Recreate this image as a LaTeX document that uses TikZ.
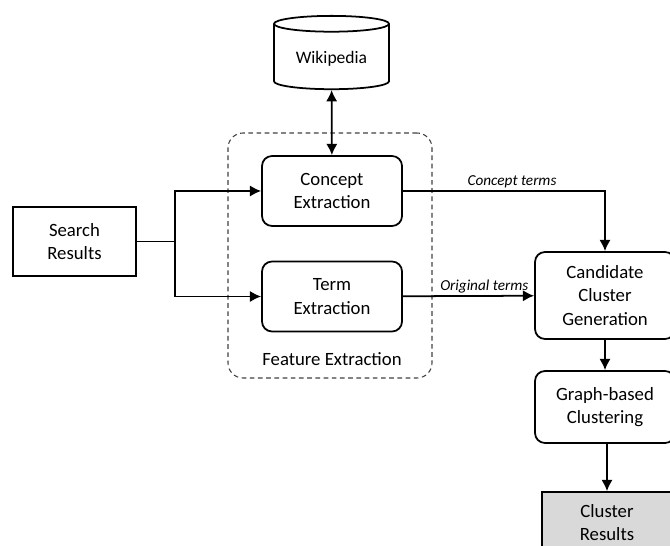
\documentclass[tikz,border=0pt]{standalone}
\usepackage{fontspec}
\setmainfont{Carlito}
\usetikzlibrary{positioning}
\usetikzlibrary{calc}
\usetikzlibrary{arrows.meta, shapes}
\tikzset{
	-{Latex[length=3.4mm, width=3.4mm]},
	semithick,
	every path/.style={line width=1.5pt},
	state/.style ={rectangle, rounded corners=0.3cm, draw, align=center, font=\fontsize{16}{20}\selectfont, minimum width=4.2cm, minimum height=2.1cm},
	plain/.style ={state, rounded corners=0pt},
	dbase/.style ={cylinder, shape border rotate=90, draw, aspect=0.2, font=\fontsize{15}{18}\selectfont, minimum width=3.45cm, minimum height=2.2cm},
	group/.style ={rectangle, rounded corners=0.45cm, draw=black!75, dash pattern=on 4pt off 3pt, line width=0.9pt, minimum width=6.12cm, minimum height=7.35cm},
	bidirected/.style={{Latex[length=3.4mm, width=3.4mm]}-{Latex[length=3.4mm, width=3.4mm]}},
	el/.style = {inner sep=2pt, font=\fontsize{13}{15}\selectfont\itshape}
}

\begin{document}
\begin{tikzpicture}
				\useasboundingbox (0, 0) rectangle (20.1, -16.38);
				
				\node[group] (0) at (9.9, -7.665) {};
				\node[font=\fontsize{16}{20}\selectfont] (8) at (9.96, -10.77) {Feature Extraction};
				
				\node[plain, minimum width=3.69cm, minimum height=2.07cm] (1) at (2.235, -7.245) {Search\\Results};
				\node[dbase, anchor=north] (2) at (9.945, -0.45) {Wikipedia};
				\node[state] (3) at (9.96, -5.73) {Concept\\Extraction};
				\node[state] (4) at (9.96, -8.895) {Term\\Extraction};
				\node[state, minimum height=2.61cm] (5) at (18.15, -8.865) {Candidate\\Cluster\\Generation};
				\node[state, minimum height=2.16cm] (6) at (18.15, -12.21) {Graph-based\\Clustering};
				\node[plain, fill=gray!30, minimum width=3.9cm, minimum height=1.83cm] (7) at (18.21, -15.675) {Cluster\\Results};
				\coordinate (split) at (5.25, -7.245);
				
				\draw[-] (1) -- (split);
				\draw (split) |- (3);
				\draw (split) |- (4);
				\draw[bidirected] (2) -- (3);
				\draw (3) -| node[pos=0.27, above, el] {Concept terms} (5);
				\draw (4) -- node[pos=0.62, above, el] {Original terms} (5);
				\draw (5) -- (6);
				\draw (6.south -| 7.north) -- (7);
				
			\end{tikzpicture}
\end{document}
